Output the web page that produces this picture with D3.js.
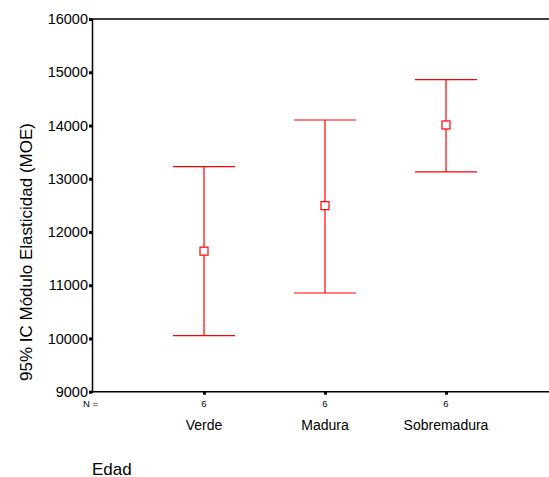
<!DOCTYPE html>
<html>
<head>
<meta charset="utf-8">
<script src="https://cdn.jsdelivr.net/npm/d3@7"></script>
<style>
  body { margin: 0; background: #fff; }
  svg { display: block; font-family: Arial, "Liberation Sans", sans-serif; }
  svg text { fill: #000; }
</style>
</head>
<body>
<div id="chart"></div>
<script>
// error bar data: 95% CI of MOE by age group
const categories = ['Verde', 'Madura', 'Sobremadura'];
const means = [11640, 12495, 14010];
const lower = [10053, 10854, 13127];
const upper = [13227, 14103, 14860];
const counts = [6, 6, 6];
const yTicks = [9000, 10000, 11000, 12000, 13000, 14000, 15000, 16000];

const width = 549;
const height = 477;
const plot = { left: 92, top: 19, bottom: 391.7, right: 549 };

const svg = d3
  .select('#chart')
  .append('svg')
  .attr('width', width)
  .attr('height', height);

const y = d3.scaleLinear().domain([9000, 16000]).range([plot.bottom, plot.top]);
const x = d3.scalePoint().domain(categories).range([204, 446]);

// frame: top line, left axis, bottom axis
svg
  .append('line')
  .attr('x1', plot.left)
  .attr('x2', plot.right)
  .attr('y1', plot.top)
  .attr('y2', plot.top)
  .style('stroke', '#000')
  .style('stroke-width', 1.5);

const yAxis = svg
  .append('g')
  .attr('transform', `translate(${plot.left},0)`)
  .call(d3.axisLeft(y).tickValues(yTicks).tickSize(3).tickPadding(1).tickFormat(d3.format('d')));
yAxis
  .attr('font-size', 14.5)
  .attr('font-family', 'Arial, "Liberation Sans", sans-serif');
yAxis.select('.domain').style('stroke', '#000').style('stroke-width', 1.5);
yAxis.selectAll('.tick line').style('stroke', '#000').style('stroke-width', 3);

const xAxis = svg
  .append('g')
  .attr('transform', `translate(0,${plot.bottom})`)
  .call(d3.axisBottom(x).tickSize(3).tickFormat(() => ''));
xAxis.select('.domain').attr('d', `M${plot.left},0H${plot.right}`).style('stroke', '#000').style('stroke-width', 1.5);
xAxis.selectAll('.tick line').style('stroke', '#000').style('stroke-width', 3);

// N = row
svg
  .append('text')
  .attr('x', 83)
  .attr('y', 407)
  .attr('font-size', 9.5)
  .text('N =');

svg
  .append('g')
  .selectAll('text')
  .data(categories)
  .enter()
  .append('text')
  .attr('x', (d) => x(d))
  .attr('y', 407)
  .attr('text-anchor', 'middle')
  .attr('font-size', 9.5)
  .text((d, i) => counts[i]);

// category labels
svg
  .append('g')
  .selectAll('text')
  .data(categories)
  .enter()
  .append('text')
  .attr('x', (d) => x(d))
  .attr('y', 429.5)
  .attr('text-anchor', 'middle')
  .attr('font-size', 14)
  .text((d) => d);

// axis titles
svg
  .append('text')
  .attr('x', 92)
  .attr('y', 474.5)
  .attr('font-size', 17)
  .text('Edad');

svg
  .append('text')
  .attr('transform', 'translate(32,252) rotate(-90)')
  .attr('text-anchor', 'middle')
  .attr('font-size', 17)
  .text('95% IC Módulo Elasticidad (MOE)');

// error bars
const capHalf = 31;
const bars = svg
  .append('g')
  .selectAll('.bar')
  .data(categories)
  .enter()
  .append('g')
  .attr('class', 'bar');

bars
  .append('line')
  .attr('x1', (d) => x(d))
  .attr('x2', (d) => x(d))
  .attr('y1', (d, i) => y(lower[i]))
  .attr('y2', (d, i) => y(upper[i]))
  .style('stroke', '#ff0000')
  .style('stroke-width', 1.2);

bars
  .append('line')
  .attr('x1', (d) => x(d) - capHalf)
  .attr('x2', (d) => x(d) + capHalf)
  .attr('y1', (d, i) => y(upper[i]))
  .attr('y2', (d, i) => y(upper[i]))
  .style('stroke', '#ff0000')
  .style('stroke-width', 1.2);

bars
  .append('line')
  .attr('x1', (d) => x(d) - capHalf)
  .attr('x2', (d) => x(d) + capHalf)
  .attr('y1', (d, i) => y(lower[i]))
  .attr('y2', (d, i) => y(lower[i]))
  .style('stroke', '#ff0000')
  .style('stroke-width', 1.2);

bars
  .append('rect')
  .attr('x', (d) => x(d) - 4)
  .attr('y', (d, i) => y(means[i]) - 4)
  .attr('width', 8)
  .attr('height', 8)
  .style('fill', '#fff')
  .style('stroke', '#ff0000')
  .style('stroke-width', 1.2);
</script>
</body>
</html>
